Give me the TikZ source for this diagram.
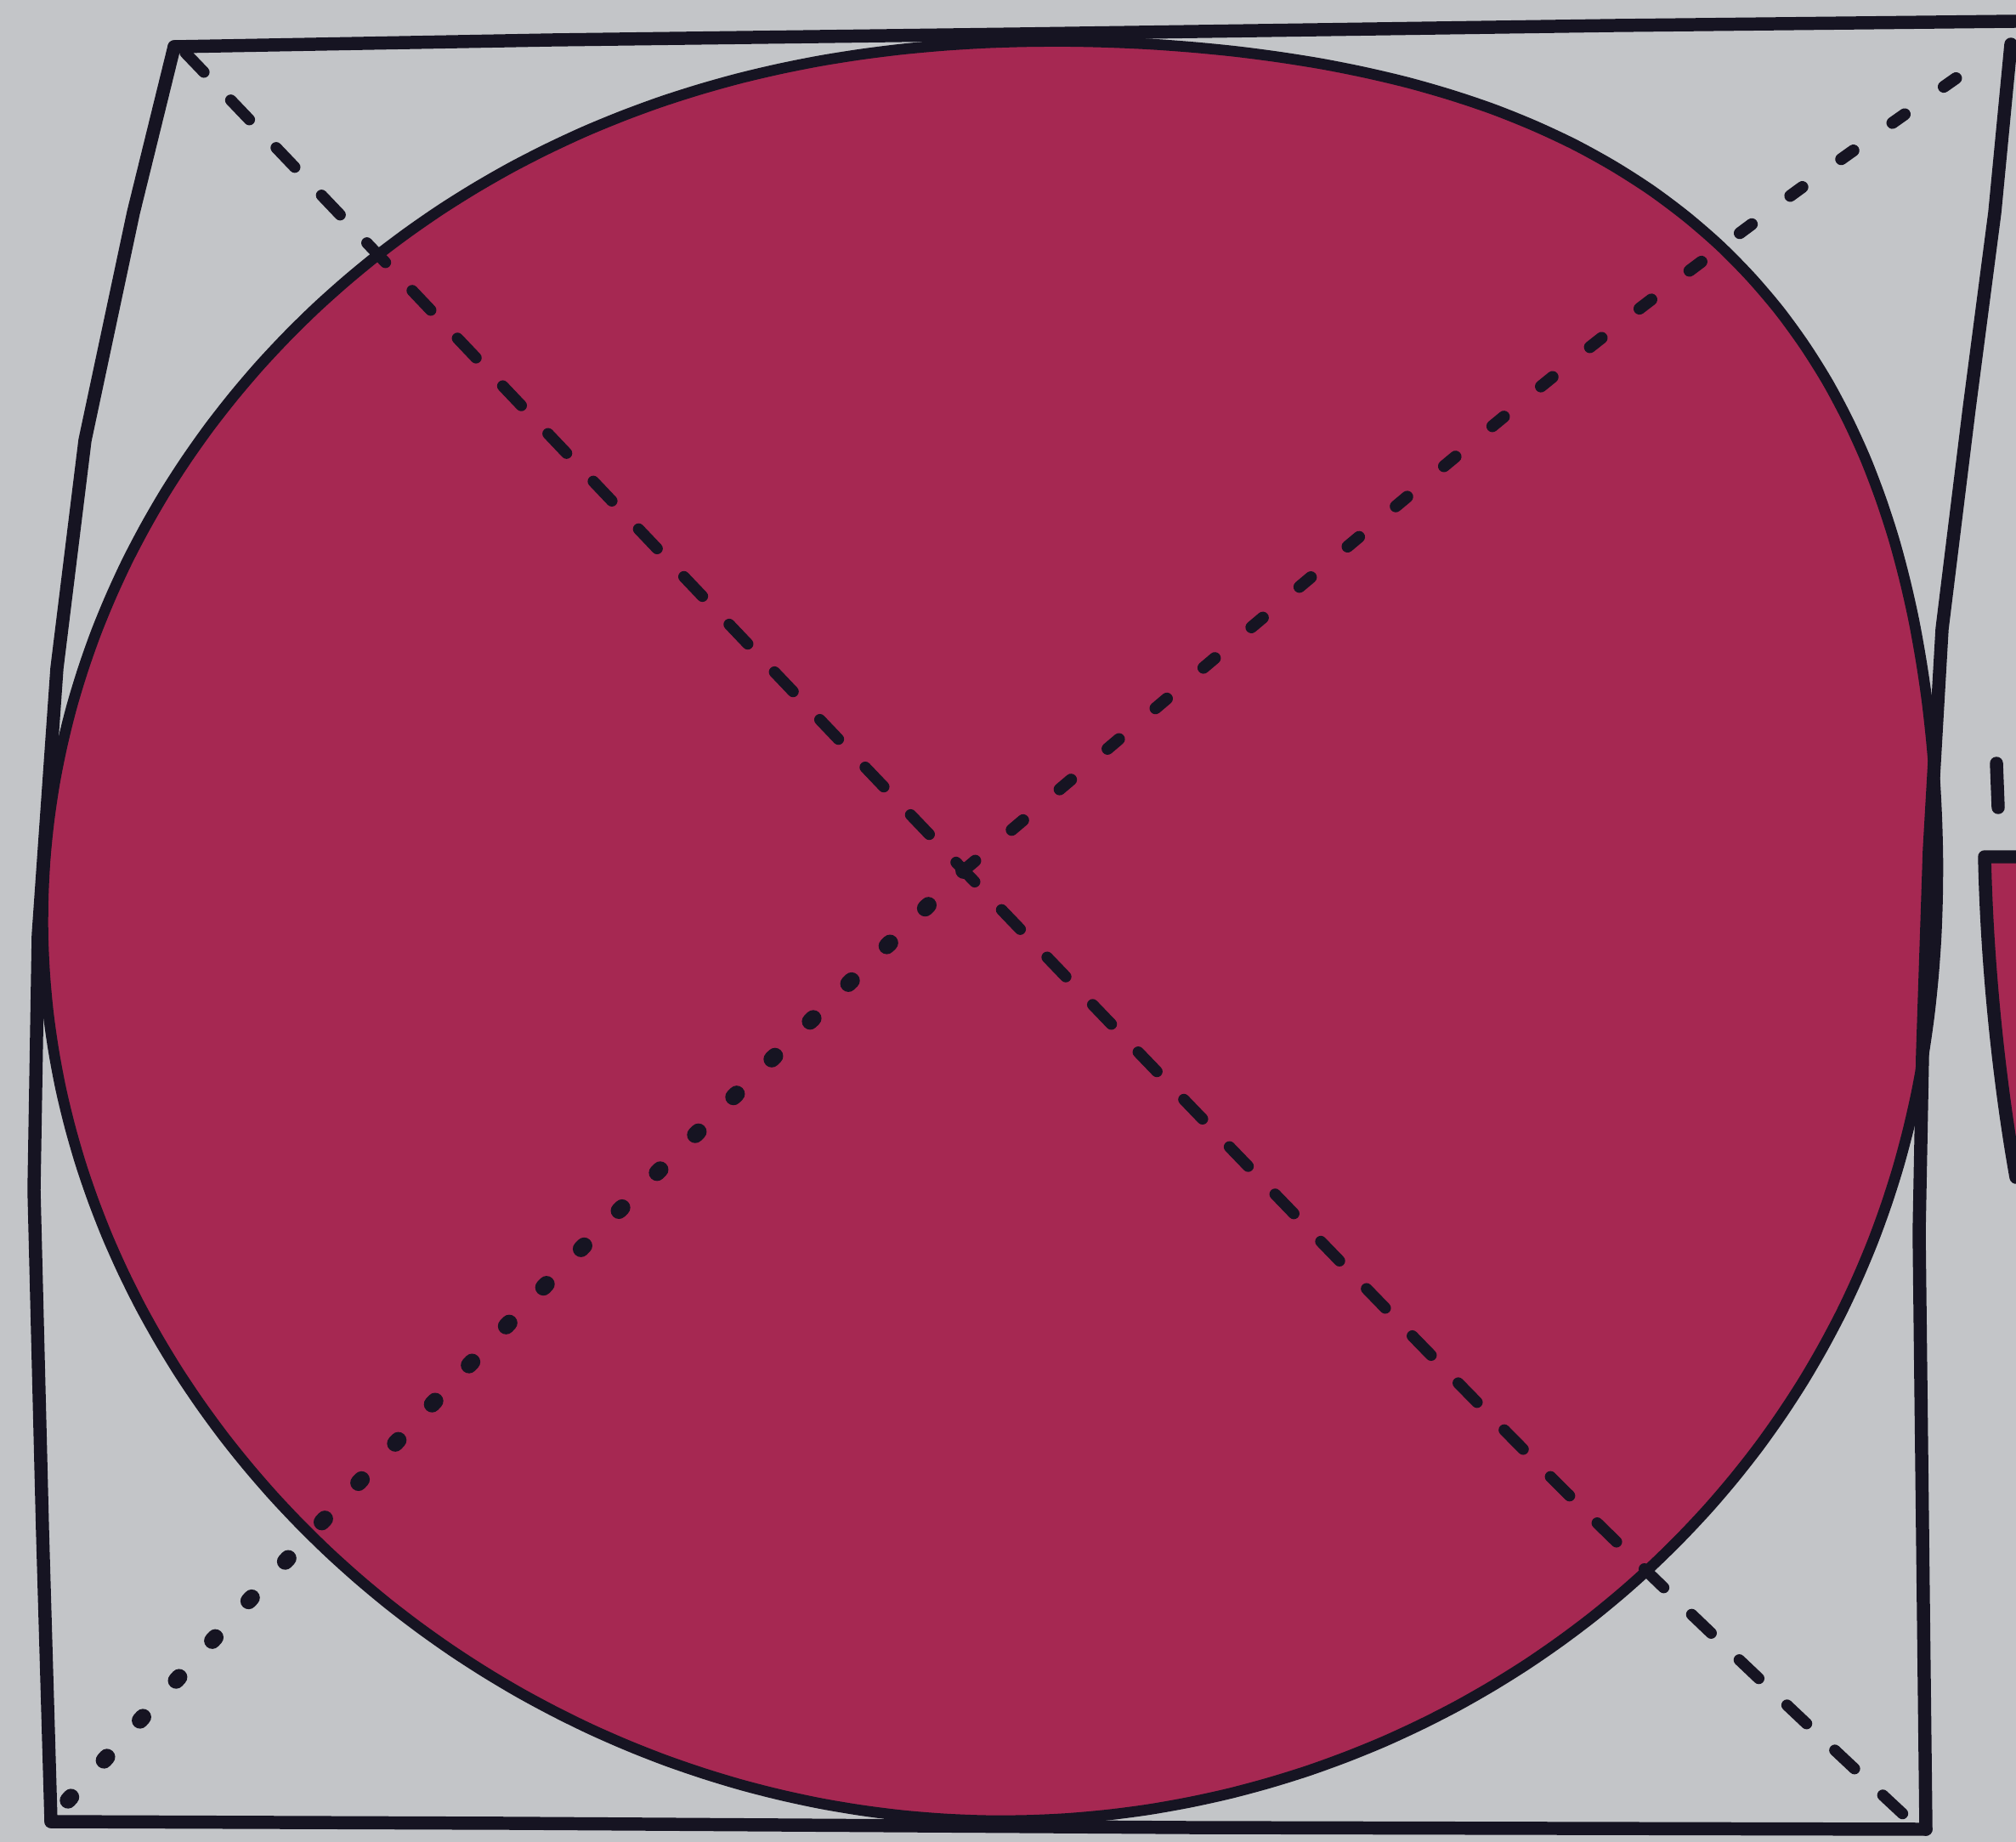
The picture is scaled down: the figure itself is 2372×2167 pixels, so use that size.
\documentclass[tikz,border=0pt]{standalone}
\definecolor{paper}{RGB}{195,197,200}
\definecolor{discred}{RGB}{166,40,82}
\definecolor{ink}{RGB}{22,20,34}
\tikzset{
  sqline/.style={draw=ink, line width=4.4pt, line join=round, line cap=round},
  disc/.style={fill=discred, draw=ink, line width=3.6pt},
  longdash/.style={draw=ink, line width=3.8pt, line cap=round, dash pattern=on 9pt off 13pt},
  dotline/.style={draw=ink, line width=5.5pt, line cap=round, dash pattern=on 1.5pt off 16.5pt},
  shortdash/.style={draw=ink, line width=4pt, line cap=round, dash pattern=on 5pt off 16pt}
}
\begin{document}
\begin{tikzpicture}[x=0.01cm,y=-0.01cm,
  declare function={bump(\t)=1+0.1*pow(max(0,cos(\t-45)),8)-0.02*pow(max(0,cos(\t-225)),4);}]
\useasboundingbox (0,0) rectangle (2372,2167);
\fill[paper] (0,0) rectangle (2372,2167);
\coordinate (tl) at (218,62);
\coordinate (br) at (2240,2135);
\coordinate (bl) at (80,2118);
\coordinate (tr) at (2330,72);
\coordinate (x) at (1134,1024);
\draw[disc] plot[domain=0:357.5, samples=144, smooth cycle, variable=\t]
  ({1158+1113*bump(\t)*cos(\t)}, {1102-1045*bump(\t)*sin(\t)});
\fill[discred] (2335,1008) -- (2372,1008) -- (2372,1385)
  .. controls (2355,1290) and (2338,1150) .. (2335,1008) -- cycle;
\draw[sqline] (2372,1008) -- (2335,1008) .. controls (2338,1150) and (2355,1290) .. (2372,1385);
\draw[sqline] (2349,898) -- (2351,950);
\draw[sqline] (205,55) -- (650,47) -- (1200,40) -- (1900,30) -- (2372,25);
\draw[sqline] (2366,52) -- (2347,250) -- (2317,480) -- (2285,740) -- (2270,1000)
  -- (2262,1240) -- (2258,1450) -- (2262,1800) -- (2266,2152);
\draw[sqline] (2266,2152) -- (1400,2150) -- (600,2145) -- (60,2143);
\draw[sqline] (60,2143) -- (50,1800) -- (40,1400) -- (45,1100) -- (67,786)
  -- (100,518) -- (157,250) -- (205,55);
\draw[longdash] plot[smooth] coordinates {(tl) (410,263) (x) (1820,1733) (br)};
\draw[dotline] plot[smooth] coordinates {(bl) (317,1857) (672,1481) (x)};
\draw[shortdash] plot[smooth] coordinates {(x) (1558,666) (1861,416) (2107,230) (tr)};
\end{tikzpicture}
\end{document}
